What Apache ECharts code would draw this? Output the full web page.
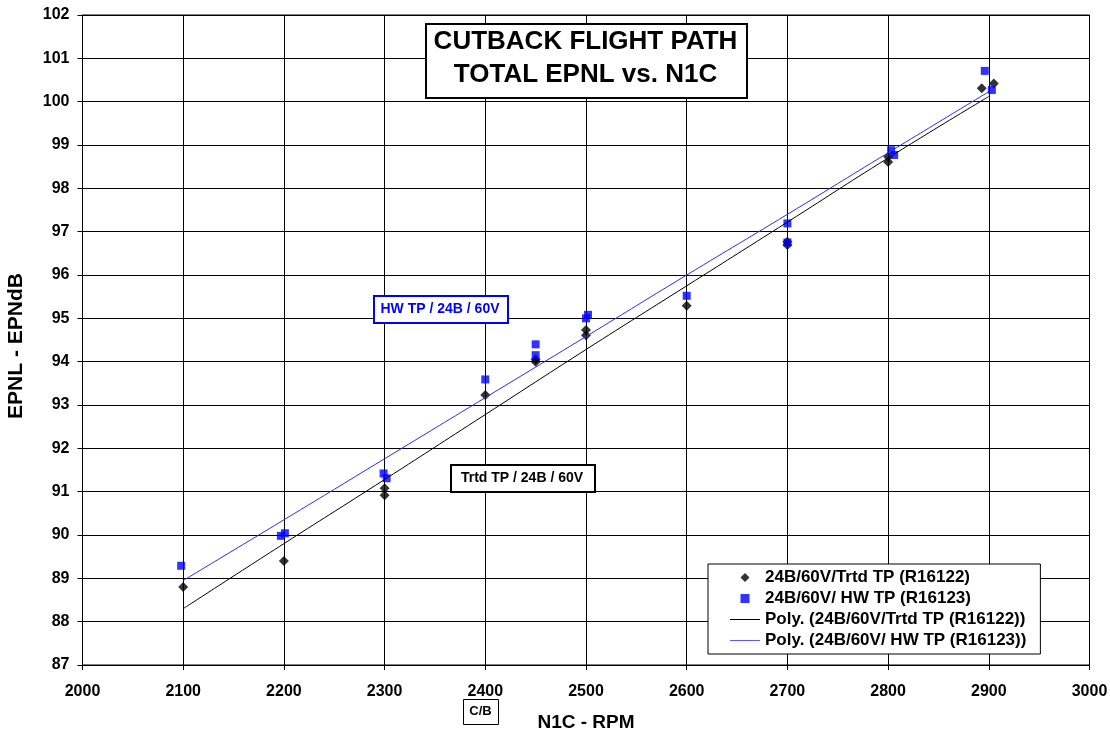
<!DOCTYPE html>
<html>
<head>
<meta charset="utf-8">
<script src="https://cdn.jsdelivr.net/npm/echarts@6/dist/echarts.min.js"></script>
<style>html,body{margin:0;padding:0;background:#fff}#c{width:1110px;height:734px}</style>
</head>
<body>
<div id="c"></div>
<script>
// ---- data ----
const trtdX = [2100, 2200, 2300, 2300, 2400, 2450, 2450, 2500, 2500, 2600, 2700, 2700, 2800, 2800, 2893, 2905];
const trtdY = [88.8, 89.4, 91.08, 90.92, 93.23, 94.05, 94.0, 94.73, 94.61, 95.29, 96.69, 96.77, 98.73, 98.61, 100.31, 100.42];
const hwX = [2098, 2197, 2201, 2299, 2302, 2400, 2450, 2450, 2500, 2502, 2600, 2700, 2700, 2803, 2806, 2896, 2903];
const hwY = [89.29, 89.98, 90.04, 91.42, 91.31, 93.59, 94.40, 94.15, 95.0, 95.08, 95.52, 97.19, 96.75, 98.88, 98.77, 100.71, 100.27];
const fitX = [2100, 2200, 2300, 2400, 2500, 2600, 2700, 2800, 2900];
const trtdFit = [88.3, 89.8, 91.28, 92.78, 94.28, 95.75, 97.22, 98.7, 100.12];
const hwFit = [88.95, 90.35, 91.76, 93.17, 94.58, 96.0, 97.4, 98.82, 100.23];
const seriesNames = ['24B/60V/Trtd TP (R16122)', '24B/60V/ HW TP (R16123)',
  'Poly. (24B/60V/Trtd TP (R16122))', 'Poly. (24B/60V/ HW TP (R16123))'];
const titleLines = ['CUTBACK FLIGHT PATH', 'TOTAL EPNL vs. N1C'];
const xName = 'N1C - RPM';
const yName = 'EPNL - EPNdB';
const hwLabel = 'HW TP / 24B / 60V';
const trtdLabel = 'Trtd TP / 24B / 60V';
const cbLabel = 'C/B';

const zip = (xs, ys) => xs.map((x, i) => [x, ys[i]]);
const FONT = 'Liberation Sans';

const chart = echarts.init(document.getElementById('c'), null, {renderer: 'canvas'});
const axisCommon = {
  axisLine: {show: true, lineStyle: {color: '#000', width: 1}},
  axisTick: {show: true, inside: false, length: 5, lineStyle: {color: '#000'}},
  splitLine: {show: true, lineStyle: {color: '#000', width: 1}},
  axisLabel: {color: '#000', fontFamily: FONT, fontWeight: 'bold', fontSize: 16, formatter: v => String(v)},
  nameTextStyle: {color: '#000', fontFamily: FONT, fontWeight: 'bold', fontSize: 19}
};
chart.setOption({
  animation: false,
  backgroundColor: '#fff',
  textStyle: {fontFamily: FONT},
  grid: {left: 82.5, right: 20.5, top: 15, bottom: 69, show: true, borderColor: '#000', borderWidth: 1,
    containLabel: false, outerBoundsMode: 'none'},
  xAxis: Object.assign({}, axisCommon, {
    type: 'value', min: 2000, max: 3000, interval: 100,
    name: xName, nameLocation: 'middle', nameGap: 48,
    axisLabel: Object.assign({}, axisCommon.axisLabel, {margin: 19})
  }),
  yAxis: Object.assign({}, axisCommon, {
    type: 'value', min: 87, max: 102, interval: 1,
    name: yName, nameLocation: 'middle', nameGap: 56,
    nameTextStyle: Object.assign({}, axisCommon.nameTextStyle, {fontSize: 21, padding: [0, 12, 0, 0]}),
    axisLabel: Object.assign({}, axisCommon.axisLabel, {margin: 13})
  }),
  legend: {
    orient: 'vertical', left: 708, top: 564,
    backgroundColor: '#fff', borderColor: '#000', borderWidth: 1,
    padding: [5, 14, 5, 22],
    itemWidth: 30, itemHeight: 9, itemGap: 4, symbolKeepAspect: true,
    textStyle: {color: '#000', fontFamily: FONT, fontWeight: 'bold', fontSize: 17, lineHeight: 17},
    data: [
      {name: seriesNames[0], icon: 'path://M5,0L10,5L5,10L0,5Z'},
      {name: seriesNames[1], icon: 'path://M0,0H10V10H0Z'},
      {name: seriesNames[2], icon: 'path://M0,0H30V1H0Z'},
      {name: seriesNames[3], icon: 'path://M0,0H30V1H0Z'}
    ]
  },
  series: [
    {name: seriesNames[0], type: 'scatter', symbol: 'diamond', symbolSize: 10,
      itemStyle: {color: '#000'}, data: zip(trtdX, trtdY), z: 3},
    {name: seriesNames[1], type: 'scatter', symbol: 'rect', symbolSize: 8,
      itemStyle: {color: '#0000ff'}, data: zip(hwX, hwY), z: 4},
    {name: seriesNames[2], type: 'line', symbol: 'none', smooth: true,
      lineStyle: {color: '#000', width: 1}, itemStyle: {color: '#000'}, data: zip(fitX, trtdFit), z: 5},
    {name: seriesNames[3], type: 'line', symbol: 'none', smooth: true,
      lineStyle: {color: '#2a2aff', width: 1}, itemStyle: {color: '#5a5aff'}, data: zip(fitX, hwFit), z: 5}
  ],
  graphic: [
    {type: 'rect', left: 425, top: 23, z: 10, shape: {width: 321, height: 74},
      style: {fill: '#fff', stroke: '#000', lineWidth: 2}},
    {type: 'text', x: 585.5, y: 42, z: 11,
      style: {text: titleLines[0], fill: '#000', font: 'bold 26px "Liberation Sans"', textAlign: 'center', textVerticalAlign: 'middle'}},
    {type: 'text', x: 585.5, y: 75, z: 11,
      style: {text: titleLines[1], fill: '#000', font: 'bold 26px "Liberation Sans"', textAlign: 'center', textVerticalAlign: 'middle'}},
    {type: 'rect', left: 373, top: 295, z: 10, shape: {width: 134, height: 27},
      style: {fill: '#fff', stroke: '#0000ff', lineWidth: 2}},
    {type: 'text', x: 440, y: 309, z: 11,
      style: {text: hwLabel, fill: '#0000ff', font: 'bold 14px "Liberation Sans"', textAlign: 'center', textVerticalAlign: 'middle'}},
    {type: 'rect', left: 450, top: 464, z: 10, shape: {width: 144, height: 27},
      style: {fill: '#fff', stroke: '#000', lineWidth: 2}},
    {type: 'text', x: 522, y: 478, z: 11,
      style: {text: trtdLabel, fill: '#000', font: 'bold 14px "Liberation Sans"', textAlign: 'center', textVerticalAlign: 'middle'}},
    {type: 'rect', left: 463, top: 699, z: 10, shape: {width: 35, height: 25},
      style: {fill: '#fff', stroke: '#000', lineWidth: 1}},
    {type: 'text', x: 480.5, y: 711, z: 11,
      style: {text: cbLabel, fill: '#000', font: 'bold 13px "Liberation Sans"', textAlign: 'center', textVerticalAlign: 'middle'}}
  ]
});
</script>
</body>
</html>
